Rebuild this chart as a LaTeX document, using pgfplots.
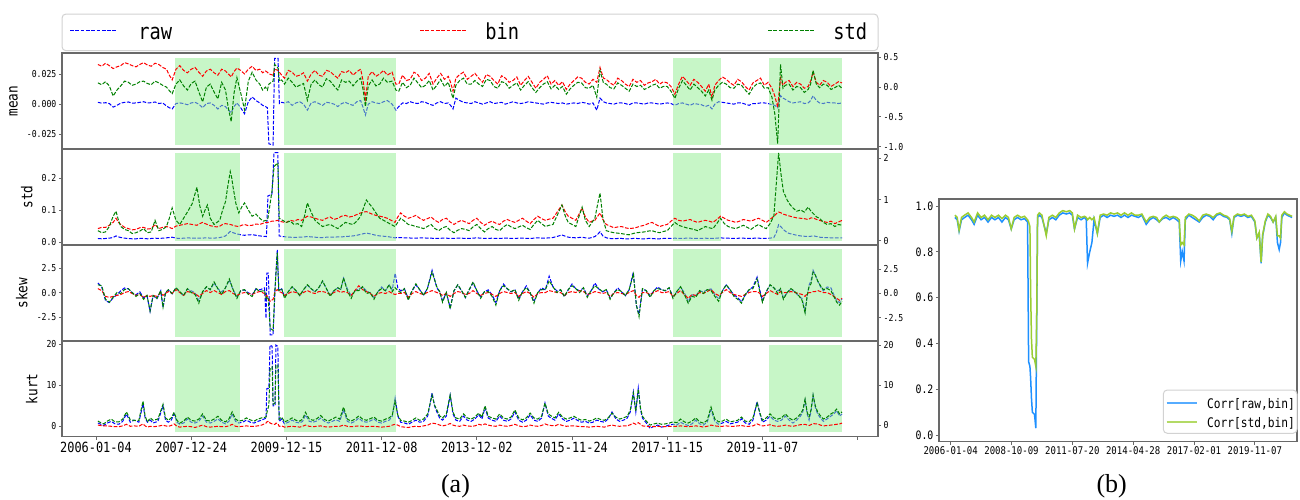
\documentclass[border=0pt]{standalone}
\usepackage{fontspec}
\setmainfont{Liberation Serif}
\newfontfamily\mono{DejaVu Sans Mono}[FakeStretch=0.85]
\usepackage{pgfplots}
\usepackage{pgfplotstable}
\pgfplotsset{compat=1.18}

\definecolor{spine}{RGB}{105,105,105}
\definecolor{lgreen}{RGB}{144,238,144}
\definecolor{pblue}{RGB}{0,0,255}
\definecolor{pred}{RGB}{255,0,0}
\definecolor{pgreen}{RGB}{0,128,0}
\definecolor{cblue}{RGB}{30,144,255}
\definecolor{cgreen}{RGB}{154,205,50}
\definecolor{lbox}{RGB}{210,210,210}

\newcommand\fs[1]{\mono\fontsize{#1}{#1}\selectfont}

% x = trading days since 2006-01-04
\pgfplotstableread{
d raw bin std
10 0.0015 0.38 0.07
30 0.0008 0.35 0.04
50 0.0012 0.40 0.09
70 0.0005 0.36 0.02
90 -0.0025 0.31 -0.15
110 -0.0010 0.34 -0.05
130 0.0008 0.36 0.02
150 0.0015 0.41 0.10
170 0.0018 0.39 0.08
190 0.0008 0.36 0.03
210 0.0010 0.34 0.05
230 0.0015 0.38 0.09
250 0.0020 0.41 0.10
270 0.0010 0.37 0.06
290 0.0012 0.35 0.04
310 0.0018 0.40 0.10
330 0.0005 0.38 0.07
350 0.0010 0.33 0.03
370 -0.0015 0.30 0.00
385 -0.0030 0.20 -0.06
400 -0.0040 0.12 -0.11
420 0.0005 0.30 0.05
440 0.0010 0.36 0.12
460 0.0005 0.28 0.02
480 -0.0005 0.24 -0.05
500 0.0010 0.30 0.06
520 0.0015 0.33 0.10
540 0.0000 0.25 -0.08
560 -0.0030 0.18 -0.25
580 0.0005 0.27 0.00
600 0.0010 0.30 0.05
620 -0.0010 0.24 -0.08
640 -0.0040 0.20 -0.20
660 -0.0010 0.30 0.08
680 -0.0020 0.27 -0.05
695 -0.0050 0.22 -0.35
710 -0.0070 0.17 -0.58
725 -0.0020 0.26 -0.10
740 0.0010 0.32 0.16
760 -0.0030 0.28 -0.10
780 -0.0080 0.22 -0.38
800 0.0020 0.30 0.10
820 0.0060 0.35 0.25
840 0.0030 0.28 0.12
860 0.0010 0.30 0.05
875 -0.0010 0.24 -0.05
890 -0.0020 0.27 0.00
900 -0.0030 0.25 -0.05
908 -0.0330 0.22 0.05
930 -0.0340 0.20 0.10
938 0.0380 0.30 0.38
956 0.0380 0.28 0.32
963 0.0005 0.25 0.10
975 0.0015 0.20 0.12
990 0.0010 0.15 0.05
1010 0.0020 0.28 0.15
1030 -0.0010 0.25 0.08
1050 0.0010 0.18 0.00
1070 0.0020 0.20 0.03
1090 0.0000 0.24 0.06
1110 -0.0050 0.10 -0.22
1130 0.0010 0.22 0.05
1150 0.0020 0.28 0.12
1170 0.0005 0.20 0.04
1190 -0.0010 0.18 0.00
1210 0.0015 0.28 0.14
1230 0.0010 0.26 0.10
1250 0.0000 0.20 0.02
1270 -0.0020 0.15 -0.05
1290 0.0005 0.26 0.12
1310 0.0015 0.24 0.08
1330 0.0000 0.28 0.10
1350 -0.0010 0.20 0.02
1370 0.0020 0.26 0.10
1390 0.0030 0.30 0.15
1403 -0.0030 0.10 -0.05
1415 -0.0090 -0.20 -0.33
1430 0.0000 0.18 0.02
1450 0.0020 0.26 0.12
1470 0.0010 0.18 0.02
1490 0.0005 0.22 0.05
1510 0.0020 0.28 0.15
1530 0.0030 0.20 0.08
1555 0.0000 0.25 0.10
1575 -0.0050 0.05 -0.05
1590 -0.0020 0.05 -0.07
1610 0.0010 0.20 0.08
1630 0.0005 0.11 -0.01
1650 0.0020 0.13 0.03
1670 0.0010 0.25 0.15
1690 0.0005 0.21 0.07
1710 0.0020 0.11 -0.01
1730 0.0015 0.15 0.03
1750 0.0000 0.23 0.11
1770 -0.0010 0.05 -0.05
1790 0.0010 0.15 0.03
1810 0.0020 0.23 0.13
1830 0.0005 0.13 0.01
1850 0.0010 0.18 0.08
1862 -0.0010 0.08 -0.05
1875 -0.0040 -0.07 -0.19
1890 0.0050 0.15 0.03
1910 0.0030 0.21 0.11
1930 0.0015 0.25 0.15
1950 0.0010 0.13 0.05
1970 0.0005 0.18 0.05
1990 0.0020 0.23 0.11
2010 0.0010 0.15 0.05
2030 0.0000 0.08 0.01
2050 0.0010 0.21 0.13
2070 0.0020 0.18 0.11
2090 0.0005 0.11 0.01
2110 0.0010 0.05 -0.02
2130 0.0015 0.19 0.09
2150 0.0000 0.15 0.07
2170 0.0010 0.08 -0.02
2190 0.0020 0.11 0.03
2210 0.0010 0.17 0.07
2230 0.0005 0.03 -0.05
2250 0.0010 0.11 0.03
2270 0.0020 0.18 0.09
2290 0.0015 0.08 -0.01
2310 0.0010 -0.02 -0.09
2330 0.0005 0.08 -0.01
2350 0.0000 0.13 0.05
2370 0.0010 0.19 0.09
2390 0.0015 0.05 -0.03
2410 0.0010 0.11 0.03
2430 0.0005 0.03 -0.04
2450 0.0010 0.09 0.01
2470 0.0000 -0.04 -0.12
2490 0.0005 0.05 -0.03
2510 0.0010 0.11 0.03
2530 0.0005 0.17 0.08
2550 0.0015 0.15 0.07
2570 0.0010 0.08 -0.01
2590 0.0000 0.05 -0.02
2610 0.0010 0.13 0.03
2630 -0.0050 0.08 -0.17
2647 0.0050 0.33 0.28
2665 0.0020 0.15 0.07
2680 0.0010 0.13 0.05
2700 0.0005 0.07 -0.01
2720 0.0000 0.03 -0.03
2740 0.0010 0.15 0.07
2760 0.0010 0.11 0.03
2780 0.0005 0.05 -0.02
2800 -0.0005 0.01 -0.07
2820 0.0010 0.13 0.05
2840 0.0010 0.08 0.01
2860 0.0005 0.11 0.03
2880 0.0000 0.03 -0.04
2900 0.0010 0.07 -0.01
2920 0.0010 0.09 0.03
2940 0.0005 0.13 0.05
2960 0.0000 0.05 -0.02
2980 0.0005 0.09 0.01
3000 0.0010 0.07 0.01
3020 0.0005 0.01 -0.07
3040 -0.0010 -0.12 -0.19
3060 0.0005 0.05 -0.02
3080 0.0010 0.18 0.11
3100 0.0000 0.11 0.03
3120 -0.0010 0.03 -0.05
3140 0.0005 0.13 0.05
3160 0.0000 0.08 -0.01
3180 -0.0005 0.01 -0.07
3200 -0.0020 -0.07 -0.15
3218 -0.0010 0.05 -0.05
3235 -0.0040 -0.17 -0.22
3250 0.0000 0.03 -0.05
3270 0.0020 0.11 0.03
3290 0.0015 0.17 0.08
3310 0.0010 0.13 0.05
3330 0.0005 0.07 -0.01
3350 0.0000 0.03 -0.02
3370 0.0010 0.13 0.05
3390 0.0010 0.09 0.03
3410 0.0000 0.01 -0.05
3430 -0.0010 -0.05 -0.12
3450 0.0005 0.07 -0.01
3470 0.0005 0.11 0.05
3490 0.0010 0.15 0.07
3510 0.0010 0.03 -0.02
3530 0.0005 0.08 -0.01
3550 -0.0005 -0.02 -0.17
3565 -0.0010 -0.15 -0.45
3580 -0.0030 -0.34 -0.95
3595 0.0070 0.15 0.38
3608 0.0050 0.03 -0.02
3620 0.0040 0.08 0.03
3640 0.0020 0.11 0.05
3660 0.0010 0.01 -0.05
3680 0.0015 0.08 0.01
3700 0.0020 0.05 -0.01
3720 0.0005 -0.02 -0.09
3740 0.0010 0.01 -0.04
3753 0.0030 0.10 0.05
3766 0.0070 0.25 0.28
3783 0.0030 0.08 0.05
3800 0.0010 0.03 -0.01
3820 0.0005 0.11 0.05
3840 0.0015 0.08 0.03
3860 0.0010 0.01 -0.04
3880 0.0010 0.05 -0.01
3900 0.0005 0.09 0.03
3918 0.0010 0.07 -0.02
}\meantab

\pgfplotstableread{
d raw bin std
10 0.012 0.30 0.25
30 0.011 0.33 0.20
50 0.012 0.33 0.22
70 0.013 0.38 0.35
90 0.015 0.45 0.60
105 0.020 0.55 0.72
118 0.017 0.45 0.50
130 0.015 0.40 0.35
150 0.013 0.33 0.28
170 0.012 0.30 0.25
190 0.011 0.27 0.18
210 0.011 0.28 0.20
230 0.012 0.32 0.24
250 0.012 0.33 0.30
270 0.011 0.29 0.20
290 0.012 0.30 0.22
310 0.013 0.40 0.50
330 0.012 0.30 0.25
350 0.013 0.33 0.28
370 0.014 0.35 0.35
385 0.015 0.33 0.55
400 0.016 0.30 0.80
420 0.013 0.36 0.50
440 0.012 0.38 0.40
460 0.013 0.40 0.55
480 0.014 0.42 0.70
505 0.013 0.40 0.90
530 0.013 0.38 1.30
545 0.013 0.42 0.85
560 0.013 0.45 0.60
573 0.014 0.42 0.75
585 0.014 0.40 0.87
600 0.013 0.37 0.55
620 0.013 0.35 0.40
635 0.014 0.34 0.45
650 0.015 0.36 0.50
665 0.017 0.40 0.75
680 0.020 0.42 0.95
693 0.027 0.41 1.35
705 0.034 0.40 1.68
712 0.032 0.39 1.55
720 0.030 0.38 1.30
735 0.027 0.36 0.90
750 0.025 0.35 0.68
765 0.023 0.38 0.82
780 0.022 0.40 0.92
800 0.023 0.37 0.75
820 0.024 0.38 0.60
840 0.022 0.41 0.65
860 0.020 0.40 0.55
878 0.019 0.43 0.48
895 0.018 0.45 0.50
903 0.145 0.45 0.55
924 0.150 0.48 1.20
935 0.280 0.48 1.80
955 0.280 0.50 1.89
962 0.020 0.48 0.55
980 0.018 0.46 0.50
1000 0.017 0.45 0.45
1020 0.016 0.50 0.48
1040 0.015 0.48 0.40
1060 0.016 0.52 0.42
1080 0.016 0.50 0.35
1095 0.017 0.55 0.60
1110 0.018 0.60 0.92
1130 0.017 0.58 0.70
1150 0.016 0.55 0.50
1170 0.015 0.52 0.42
1190 0.015 0.50 0.35
1210 0.016 0.55 0.38
1230 0.016 0.58 0.40
1250 0.016 0.52 0.35
1270 0.017 0.55 0.30
1290 0.017 0.60 0.38
1310 0.018 0.62 0.45
1330 0.019 0.58 0.42
1350 0.020 0.60 0.40
1370 0.022 0.64 0.48
1390 0.025 0.68 0.60
1405 0.027 0.70 0.80
1420 0.029 0.71 0.99
1435 0.027 0.68 0.90
1450 0.025 0.65 0.82
1470 0.022 0.62 0.68
1490 0.020 0.60 0.55
1510 0.019 0.58 0.50
1530 0.018 0.55 0.45
1550 0.016 0.50 0.40
1570 0.014 0.45 0.35
1585 0.015 0.58 0.45
1600 0.015 0.68 0.55
1620 0.014 0.60 0.48
1640 0.014 0.55 0.40
1660 0.013 0.58 0.38
1680 0.013 0.62 0.35
1700 0.014 0.55 0.33
1720 0.014 0.50 0.30
1740 0.013 0.54 0.35
1760 0.013 0.58 0.40
1780 0.012 0.50 0.30
1800 0.012 0.45 0.25
1820 0.013 0.52 0.32
1840 0.013 0.55 0.35
1860 0.012 0.46 0.26
1880 0.012 0.40 0.20
1900 0.013 0.46 0.26
1920 0.013 0.50 0.30
1940 0.012 0.46 0.28
1960 0.012 0.42 0.25
1980 0.013 0.50 0.34
2000 0.014 0.55 0.40
2020 0.013 0.45 0.30
2040 0.012 0.38 0.22
2060 0.012 0.44 0.30
2080 0.013 0.48 0.35
2100 0.012 0.43 0.28
2120 0.012 0.40 0.25
2140 0.013 0.48 0.34
2160 0.013 0.52 0.40
2180 0.012 0.48 0.34
2200 0.012 0.45 0.30
2220 0.013 0.50 0.34
2240 0.013 0.55 0.38
2260 0.012 0.48 0.32
2280 0.012 0.42 0.28
2300 0.013 0.52 0.40
2320 0.014 0.60 0.50
2340 0.013 0.54 0.42
2360 0.013 0.50 0.35
2380 0.014 0.53 0.38
2400 0.015 0.55 0.40
2425 0.019 0.72 0.65
2447 0.023 0.87 0.87
2465 0.019 0.70 0.60
2480 0.016 0.60 0.45
2500 0.015 0.55 0.40
2520 0.014 0.50 0.35
2537 0.015 0.65 0.60
2553 0.016 0.80 0.82
2570 0.014 0.58 0.50
2590 0.013 0.45 0.35
2605 0.015 0.48 0.45
2620 0.018 0.50 0.55
2635 0.025 0.60 0.90
2647 0.033 0.68 1.16
2662 0.020 0.52 0.55
2680 0.014 0.40 0.25
2700 0.012 0.36 0.22
2720 0.011 0.32 0.20
2740 0.012 0.34 0.19
2760 0.012 0.35 0.18
2780 0.011 0.32 0.16
2800 0.011 0.30 0.15
2820 0.012 0.31 0.18
2840 0.012 0.33 0.20
2860 0.011 0.36 0.21
2880 0.011 0.38 0.22
2900 0.012 0.42 0.24
2920 0.012 0.45 0.25
2940 0.011 0.40 0.22
2960 0.011 0.35 0.20
2980 0.012 0.38 0.23
3000 0.012 0.40 0.25
3020 0.012 0.48 0.35
3040 0.013 0.55 0.45
3060 0.012 0.50 0.38
3080 0.012 0.48 0.35
3100 0.013 0.50 0.32
3120 0.013 0.52 0.30
3140 0.012 0.48 0.28
3160 0.012 0.45 0.25
3180 0.012 0.48 0.30
3200 0.013 0.50 0.35
3220 0.012 0.48 0.32
3240 0.012 0.45 0.30
3260 0.013 0.52 0.42
3280 0.014 0.60 0.55
3300 0.013 0.55 0.42
3320 0.013 0.50 0.35
3340 0.012 0.48 0.32
3360 0.012 0.45 0.30
3380 0.013 0.48 0.34
3400 0.013 0.52 0.38
3420 0.012 0.50 0.33
3440 0.012 0.48 0.28
3460 0.013 0.52 0.35
3480 0.013 0.55 0.40
3500 0.012 0.50 0.34
3520 0.012 0.45 0.30
3540 0.013 0.52 0.42
3560 0.015 0.60 0.60
3573 0.030 0.66 1.40
3585 0.055 0.70 2.13
3598 0.048 0.68 1.60
3610 0.040 0.65 1.20
3630 0.030 0.62 0.99
3645 0.027 0.60 0.88
3660 0.025 0.58 0.80
3680 0.022 0.56 0.72
3700 0.020 0.55 0.75
3720 0.019 0.54 0.70
3740 0.018 0.52 0.82
3755 0.019 0.56 0.72
3770 0.020 0.55 0.65
3785 0.018 0.52 0.58
3800 0.016 0.50 0.55
3820 0.015 0.47 0.45
3840 0.015 0.45 0.40
3860 0.014 0.48 0.42
3880 0.014 0.42 0.35
3900 0.014 0.46 0.40
3918 0.014 0.50 0.38
}\stdtab

\pgfplotstableread{
d raw bin std
10 1.0 0.5 0.9
30 0.6 0.3 0.8
50 -0.8 -0.3 -0.6
70 -1.0 -0.4 -0.9
90 -0.5 -0.3 -0.4
110 -0.2 -0.2 0.1
130 0.2 -0.1 0.0
150 0.5 0.1 0.4
170 0.4 0.2 0.5
190 0.0 0.0 0.1
210 -0.2 -0.2 -0.3
230 0.1 -0.1 0.0
250 -0.5 -0.4 -0.6
268 -0.3 -0.2 -0.2
284 -1.9 -0.3 -1.8
300 -0.3 -0.2 -0.2
320 -0.6 -0.3 -0.5
340 0.2 0.1 0.3
352 -1.5 -0.2 -1.4
365 0.0 0.0 0.1
380 0.3 0.2 0.4
400 -0.1 0.0 0.0
420 0.5 0.4 0.6
440 0.1 0.1 0.2
460 -0.3 -0.2 -0.2
480 0.4 0.2 0.5
500 0.2 0.1 0.1
520 0.0 0.0 -0.1
540 -0.8 -0.3 -1.0
560 0.1 0.0 0.2
580 0.6 0.3 0.7
600 0.3 0.1 0.4
620 1.0 0.3 1.2
640 0.4 0.1 0.5
660 0.1 -0.1 -0.1
680 0.5 0.2 0.6
700 1.3 0.3 1.5
720 0.3 0.0 0.4
740 -0.4 -0.2 -0.5
760 0.2 0.0 0.3
780 0.3 0.1 0.4
800 0.0 0.0 -0.1
820 -0.2 -0.1 -0.3
840 0.4 0.1 0.5
860 0.3 0.2 0.2
885 0.5 0.0 0.3
893 -2.6 -0.3 -0.5
897 2.0 -0.2 -0.3
905 2.0 -0.5 -0.6
915 -4.3 -0.8 -3.6
930 -4.3 -0.6 -3.8
940 0.3 0.2 0.5
952 4.4 0.4 4.2
960 0.2 0.2 0.3
975 0.4 0.1 0.5
990 -0.4 -0.2 -0.5
1010 0.1 0.0 0.2
1030 0.6 0.2 0.7
1050 0.2 0.1 0.3
1070 -0.3 -0.1 -0.2
1090 0.3 0.1 0.4
1110 0.8 0.3 0.9
1130 0.4 0.1 0.5
1150 0.1 0.0 0.2
1170 0.5 0.2 0.6
1190 1.2 0.2 1.3
1210 0.4 0.1 0.5
1230 -0.2 -0.1 -0.3
1250 0.2 0.1 0.3
1270 0.5 0.3 0.6
1285 0.3 0.1 0.4
1300 1.5 0.2 1.6
1320 0.4 0.1 0.3
1340 -0.3 -0.2 -0.5
1360 0.2 0.3 0.3
1380 0.4 0.8 0.3
1400 0.6 0.4 0.7
1420 0.2 0.2 0.0
1440 0.0 0.0 0.1
1460 -0.5 -0.3 -0.6
1480 0.1 0.0 0.2
1500 0.6 0.1 0.5
1520 0.2 0.0 0.3
1540 0.8 0.2 0.9
1556 0.3 0.0 0.2
1571 2.0 -0.1 0.6
1585 0.5 0.0 0.3
1600 0.2 0.0 0.1
1620 0.4 0.1 0.5
1640 -0.6 -0.4 -0.7
1660 0.2 0.0 0.3
1680 0.8 0.2 1.0
1700 0.3 0.0 0.4
1720 -0.2 -0.1 -0.2
1740 0.4 0.1 0.5
1765 2.3 0.3 2.2
1790 0.5 0.1 0.7
1805 0.1 0.0 0.2
1820 -0.8 -0.2 -0.9
1840 0.0 0.0 0.1
1860 -1.5 -0.3 -1.6
1880 0.2 0.0 0.3
1900 0.8 0.2 0.9
1920 0.2 0.1 0.3
1940 -0.5 -0.1 -0.4
1960 0.3 0.0 0.4
1980 1.0 0.3 1.2
2000 0.2 0.0 0.3
2020 -0.4 -0.2 -0.5
2040 0.1 0.0 0.2
2060 0.3 0.1 0.2
2080 -0.2 -0.1 -0.3
2100 -1.0 -0.3 -1.2
2120 0.2 0.0 0.3
2140 0.9 0.2 0.8
2160 0.4 0.1 0.5
2180 0.1 0.0 0.2
2200 0.3 0.1 0.4
2220 -0.6 -0.3 -0.7
2240 0.1 0.0 0.2
2260 0.7 0.2 0.6
2280 0.0 0.0 0.1
2300 -0.9 -0.4 -1.0
2320 0.0 0.0 0.1
2340 0.5 0.1 0.4
2360 0.3 0.1 0.4
2380 1.7 0.3 1.3
2400 0.6 0.2 0.7
2420 0.2 0.1 0.1
2440 0.3 0.1 0.4
2460 -0.4 -0.2 -0.3
2480 0.3 0.1 0.4
2500 0.9 0.2 0.8
2520 0.4 0.1 0.5
2540 0.2 0.3 0.1
2560 0.5 0.2 0.6
2580 -0.3 -0.1 -0.4
2600 0.2 0.0 0.3
2620 1.0 0.2 0.8
2640 0.4 0.1 0.5
2660 0.1 0.0 0.2
2680 0.3 0.1 0.4
2700 -0.5 -0.3 -0.6
2720 0.0 0.0 0.1
2740 0.5 0.1 0.4
2760 0.1 0.0 0.2
2780 -0.3 -0.1 -0.2
2800 0.3 0.1 0.4
2822 2.1 0.3 2.0
2838 -1.3 -0.2 -1.2
2852 -2.2 -0.4 -2.4
2870 0.4 0.1 0.5
2890 0.2 0.1 0.3
2910 -0.3 -0.1 -0.4
2930 0.2 0.1 0.3
2950 0.6 0.3 0.5
2970 0.3 0.1 0.4
2990 0.2 0.1 0.3
3010 0.5 0.2 0.6
3030 -0.4 -0.3 -0.5
3050 0.1 0.0 0.2
3070 0.6 0.3 0.7
3090 0.0 -0.1 -0.1
3110 -0.9 -0.5 -1.0
3130 -0.2 -0.1 -0.3
3150 -0.3 -0.2 -0.4
3170 0.2 0.1 0.3
3190 0.1 0.0 0.0
3210 0.3 0.2 0.4
3230 0.4 0.4 0.3
3250 -0.2 0.0 -0.3
3270 -0.6 -0.2 -0.8
3290 0.2 0.1 0.3
3310 0.8 0.4 0.9
3330 0.3 0.1 0.4
3350 -0.2 -0.1 -0.3
3370 -0.5 -0.2 -0.6
3390 -0.9 -0.3 -1.0
3410 -0.2 -0.1 -0.1
3430 0.3 0.1 0.4
3450 0.6 0.2 0.5
3472 1.6 0.2 1.5
3487 0.2 0.0 0.1
3500 -0.8 -0.3 -0.9
3520 0.1 0.0 0.2
3540 0.8 0.3 0.9
3560 0.5 0.1 0.6
3580 0.2 -0.1 0.0
3595 0.4 0.2 0.5
3610 -0.5 0.1 -0.6
3630 0.0 0.1 0.1
3650 0.4 0.2 0.5
3670 0.1 0.1 0.2
3690 -0.3 0.0 -0.2
3708 -0.6 -0.1 -0.7
3724 -1.9 -0.3 -2.0
3735 -0.3 0.0 -0.2
3745 0.8 0.1 0.7
3755 1.2 0.1 1.0
3766 2.3 0.2 2.2
3778 1.8 0.2 1.9
3790 1.2 0.3 1.3
3805 0.6 0.2 0.8
3820 0.2 0.1 0.4
3840 0.6 0.1 0.5
3860 0.5 -0.1 0.3
3875 -0.2 -0.3 -0.3
3890 -0.8 -0.5 -0.9
3905 -1.0 -0.7 -1.2
3918 -0.6 -0.5 -0.8
}\skewtab

\pgfplotstableread{
d raw bin std
10 0.8 0.0 1.0
25 0.5 -0.1 0.6
40 0.2 -0.2 0.3
60 0.8 -0.2 1.0
80 1.2 -0.3 1.5
100 0.6 -0.4 0.8
120 0.5 -0.4 0.8
140 1.2 -0.2 1.5
160 3.0 0.2 3.3
180 1.0 -0.3 1.3
200 1.5 -0.2 1.2
225 1.0 -0.3 1.2
247 5.5 0.3 6.0
258 2.0 -0.2 2.2
270 1.0 -0.5 0.8
285 1.5 -0.3 1.8
300 0.8 -0.4 1.2
325 1.2 -0.3 1.5
352 5.0 0.0 5.2
365 1.5 -0.2 1.8
380 1.0 -0.3 1.2
395 1.5 -0.1 1.8
410 3.0 0.3 3.2
425 1.0 -0.3 1.2
440 0.5 -0.5 0.5
460 0.8 -0.4 1.0
480 1.8 -0.3 2.0
500 1.0 -0.4 1.2
520 0.8 -0.6 1.0
540 1.2 -0.3 1.5
560 2.5 0.0 2.8
580 1.0 -0.4 1.2
600 0.8 -0.5 1.0
620 1.2 -0.4 1.5
640 1.8 -0.3 2.2
660 1.0 -0.4 1.2
680 0.6 -0.4 0.8
698 1.2 -0.2 1.5
715 3.0 0.2 3.3
733 1.2 -0.3 1.5
750 0.8 -0.4 1.0
770 1.0 -0.3 1.2
790 1.5 -0.2 1.8
810 1.0 -0.3 1.3
830 0.8 -0.3 1.0
850 1.2 -0.2 1.5
870 1.5 0.0 1.8
893 2.0 0.5 2.0
897 9.2 0.8 3.0
908 9.3 1.0 5.0
914 19.8 0.5 14.0
925 19.5 0.3 14.5
930 5.0 0.2 5.2
940 5.0 0.2 5.5
945 19.8 0.5 15.0
955 19.5 0.4 15.0
962 1.2 -0.3 1.5
975 1.8 -0.2 2.0
990 0.6 -0.5 0.8
1010 1.0 -0.4 1.2
1030 1.5 -0.3 1.8
1050 1.0 -0.4 1.2
1070 0.8 -0.5 1.0
1085 1.2 -0.3 1.5
1100 2.8 0.0 3.2
1120 1.2 -0.3 1.5
1140 1.0 -0.4 1.2
1160 1.3 -0.3 1.6
1180 2.0 -0.2 2.4
1200 1.2 -0.4 1.4
1220 0.8 -0.5 1.0
1240 1.2 -0.4 1.5
1260 1.6 -0.3 2.0
1280 1.2 -0.3 1.5
1300 4.0 0.0 4.5
1320 1.2 -0.3 1.5
1340 0.8 -0.4 1.0
1360 1.2 -0.3 1.5
1380 2.0 -0.2 2.3
1400 1.2 -0.3 1.5
1420 1.0 -0.4 1.2
1440 1.3 -0.3 1.6
1460 1.8 -0.3 2.0
1480 1.0 -0.4 1.2
1500 0.8 -0.5 1.0
1520 1.2 -0.4 1.5
1540 1.5 -0.3 1.8
1556 2.5 0.0 2.5
1571 6.9 0.2 6.0
1585 2.5 0.0 2.5
1600 1.0 -0.4 1.2
1620 0.8 -0.5 1.0
1640 0.5 -0.6 0.7
1660 1.0 -0.4 1.2
1680 1.5 -0.3 1.8
1700 1.0 -0.4 1.2
1720 1.2 -0.2 1.5
1742 2.5 0.0 2.8
1765 8.1 0.5 7.5
1778 5.0 0.4 5.0
1790 3.5 0.3 3.8
1805 2.0 0.0 2.3
1820 1.5 -0.2 1.8
1840 2.5 0.0 2.8
1860 7.6 0.4 7.5
1875 3.0 0.0 3.2
1890 1.5 -0.2 1.8
1910 1.2 -0.3 1.5
1930 2.5 0.0 2.8
1950 1.5 -0.2 1.8
1970 1.2 -0.3 1.5
1990 1.8 -0.2 2.0
2010 2.8 0.2 3.0
2027 1.8 0.0 2.0
2043 4.5 0.3 4.8
2060 2.0 0.0 2.2
2080 1.5 -0.2 1.8
2100 1.2 -0.3 1.5
2120 2.5 0.0 2.8
2140 1.5 -0.2 1.8
2160 1.2 -0.3 1.5
2180 1.8 -0.1 2.0
2200 3.5 0.2 3.8
2220 1.5 -0.2 1.8
2240 1.0 -0.4 1.3
2260 1.5 -0.3 1.8
2280 2.8 0.0 3.0
2300 1.5 -0.2 1.8
2320 1.2 -0.3 1.5
2340 2.0 -0.1 2.2
2358 5.7 0.3 5.5
2375 2.5 0.0 2.8
2390 2.0 -0.1 2.3
2410 1.5 -0.2 1.8
2430 3.0 0.2 3.2
2450 1.8 -0.1 2.0
2470 1.2 -0.3 1.5
2490 1.5 -0.2 1.8
2510 2.0 -0.2 2.2
2530 1.4 -0.3 1.6
2550 1.0 -0.4 1.2
2570 1.2 -0.4 1.4
2590 0.8 -0.5 1.0
2610 1.0 -0.4 1.3
2630 1.5 -0.3 1.8
2650 1.2 -0.4 1.4
2670 1.0 -0.5 1.2
2690 1.8 -0.2 1.8
2710 3.5 0.0 3.0
2730 1.8 -0.2 2.0
2750 1.2 -0.3 1.5
2770 1.5 -0.2 1.8
2790 2.0 -0.2 2.2
2806 3.5 0.1 3.8
2822 8.4 0.5 8.0
2835 3.5 0.2 3.5
2848 9.3 0.6 9.0
2860 4.0 0.2 4.2
2870 2.0 -0.2 2.2
2890 0.8 -0.3 1.0
2910 -0.5 -0.4 0.0
2930 0.0 -0.4 0.3
2950 0.3 -0.3 0.5
2970 -0.2 -0.4 0.2
2990 0.0 -0.4 0.3
3010 0.3 -0.3 0.5
3030 0.5 -0.3 0.8
3050 0.3 -0.3 0.6
3070 1.0 -0.2 1.5
3090 0.5 -0.3 0.8
3110 0.2 -0.4 0.5
3130 0.6 -0.3 1.0
3150 1.5 -0.2 1.8
3170 0.6 -0.3 0.8
3190 0.3 -0.5 0.5
3210 1.0 -0.3 1.2
3230 4.0 0.0 4.5
3250 1.2 -0.2 1.5
3270 0.5 -0.3 0.8
3290 0.8 -0.3 1.0
3310 1.2 -0.2 1.5
3330 0.6 -0.3 0.8
3350 0.8 -0.3 1.0
3370 1.0 -0.2 1.2
3390 1.8 -0.1 2.0
3410 0.8 -0.3 1.0
3430 0.5 -0.3 0.8
3450 1.5 -0.2 1.8
3472 6.0 0.3 5.5
3487 3.0 0.0 3.0
3500 1.0 -0.2 1.2
3520 1.5 -0.1 1.8
3540 2.5 0.1 2.8
3560 1.5 -0.2 1.8
3580 1.2 -0.3 1.5
3600 1.5 -0.2 1.8
3620 2.5 0.0 2.8
3640 1.5 -0.2 1.8
3660 0.8 -0.3 1.2
3680 1.5 -0.1 1.8
3700 2.5 0.1 2.8
3712 3.5 0.1 3.8
3724 6.4 0.2 6.5
3735 3.0 0.0 3.2
3745 1.5 -0.1 2.0
3755 3.5 0.1 3.8
3766 7.6 0.4 7.5
3778 4.5 0.3 4.8
3790 3.0 0.3 3.3
3805 2.0 0.0 2.3
3820 1.2 -0.2 1.5
3840 1.8 -0.1 2.0
3860 2.5 0.0 2.8
3875 3.0 0.1 3.2
3890 3.8 0.2 4.0
3905 2.5 0.3 2.8
3918 3.0 0.5 3.3
}\kurttab

\pgfplotstableread{
d rb sb
49 0.95 0.96
75 0.94 0.95
97 0.89 0.895
125 0.94 0.95
160 0.95 0.96
200 0.96 0.97
240 0.94 0.95
270 0.92 0.93
310 0.96 0.97
350 0.94 0.95
390 0.95 0.96
430 0.93 0.94
470 0.95 0.96
510 0.94 0.95
550 0.95 0.96
590 0.93 0.945
630 0.95 0.96
665 0.94 0.95
697 0.90 0.90
730 0.94 0.95
770 0.95 0.96
810 0.94 0.95
850 0.945 0.955
885 0.93 0.94
897 0.32 0.93
912 0.30 0.91
920 0.25 0.63
930 0.16 0.42
940 0.10 0.34
965 0.09 0.33
980 0.03 0.30
990 0.50 0.51
1000 0.95 0.96
1020 0.96 0.97
1050 0.95 0.96
1100 0.88 0.87
1130 0.94 0.95
1170 0.95 0.96
1210 0.94 0.95
1250 0.96 0.97
1290 0.97 0.98
1330 0.965 0.975
1370 0.97 0.98
1400 0.96 0.97
1425 0.90 0.90
1460 0.95 0.96
1500 0.94 0.95
1540 0.95 0.955
1560 0.94 0.95
1575 0.75 0.94
1600 0.80 0.95
1625 0.84 0.94
1650 0.94 0.95
1688 0.88 0.88
1720 0.95 0.96
1760 0.96 0.965
1800 0.95 0.96
1840 0.96 0.97
1880 0.955 0.965
1920 0.96 0.97
1960 0.95 0.96
2000 0.96 0.97
2040 0.95 0.96
2080 0.96 0.97
2120 0.955 0.96
2160 0.95 0.96
2200 0.96 0.965
2250 0.92 0.93
2290 0.94 0.95
2330 0.95 0.955
2370 0.94 0.95
2400 0.93 0.93
2440 0.945 0.95
2480 0.95 0.96
2520 0.94 0.95
2560 0.95 0.955
2600 0.94 0.95
2630 0.93 0.94
2647 0.76 0.83
2665 0.80 0.84
2685 0.76 0.83
2700 0.94 0.95
2740 0.96 0.965
2780 0.95 0.96
2820 0.94 0.95
2860 0.93 0.935
2900 0.95 0.96
2940 0.96 0.965
2980 0.955 0.96
3020 0.94 0.95
3060 0.96 0.965
3100 0.965 0.97
3140 0.955 0.96
3180 0.95 0.955
3210 0.94 0.945
3235 0.88 0.89
3260 0.95 0.955
3300 0.96 0.965
3340 0.955 0.96
3380 0.96 0.965
3420 0.95 0.955
3460 0.955 0.96
3500 0.93 0.935
3523 0.86 0.86
3550 0.88 0.885
3572 0.75 0.755
3590 0.87 0.875
3620 0.93 0.935
3650 0.96 0.965
3680 0.95 0.955
3710 0.93 0.93
3740 0.95 0.955
3760 0.84 0.87
3780 0.81 0.87
3795 0.84 0.86
3810 0.95 0.96
3840 0.97 0.975
3870 0.96 0.965
3900 0.955 0.96
3928 0.95 0.955
}\corrtab

\pgfplotsset{
  common/.style={
    scale only axis, width=408pt, height=48pt,
    xmin=-178.6, xmax=4107,
    axis line style={spine, line width=0.6pt},
    tick style={spine, line width=0.5pt},
    tick align=outside, major tick length=1.6pt,
    yticklabel style={font=\fs{4.8}, inner xsep=1pt},
  },
  panel/.style={common, xtick=\empty, ytick pos=left,
    ylabel style={font=\fs{7.5}}},
  twin/.style={common, axis y line*=right, axis x line=none},
  ser/.style={line width=0.5pt, dash pattern=on 1.85pt off 0.8pt},
  shade/.style={draw=none, fill=lgreen, fill opacity=0.5, forget plot},
}

\begin{document}
\begin{tikzpicture}
\path[use as bounding box] (0,0) rectangle (650pt,-249.5pt);

% ---- mean
\begin{axis}[panel, at={(31pt,-74.5pt)}, anchor=south west,
  ymin=-0.0373, ymax=0.0425, ylabel={mean},
  ytick={-0.025,0,0.025}, yticklabels={-0.025,0.000,0.025}]
\addplot[pblue, ser] table[x=d, y=raw] {\meantab};
\addplot[shade] coordinates {(415,-0.0342) (415,0.0386) (756,0.0386) (756,-0.0342)} -- cycle;
\addplot[shade] coordinates {(987,-0.0342) (987,0.0386) (1576,0.0386) (1576,-0.0342)} -- cycle;
\addplot[shade] coordinates {(3030,-0.0342) (3030,0.0386) (3283,0.0386) (3283,-0.0342)} -- cycle;
\addplot[shade] coordinates {(3535,-0.0342) (3535,0.0386) (3918,0.0386) (3918,-0.0342)} -- cycle;
\end{axis}
\begin{axis}[twin, at={(31pt,-74.5pt)}, anchor=south west,
  ymin=-1.04, ymax=0.572,
  ytick={-1,-0.5,0,0.5}, yticklabels={-1.0,-0.5,0.0,0.5}]
\addplot[pred, ser] table[x=d, y=bin] {\meantab};
\addplot[pgreen, ser] table[x=d, y=std] {\meantab};
\end{axis}

% ---- std
\begin{axis}[panel, at={(31pt,-122.5pt)}, anchor=south west,
  ymin=-0.0084, ymax=0.2916, ylabel={std},
  ytick={0,0.1,0.2}, yticklabels={0.0,0.1,0.2}]
\addplot[pblue, ser] table[x=d, y=raw] {\stdtab};
\addplot[shade] coordinates {(415,0.005) (415,0.279) (756,0.279) (756,0.005)} -- cycle;
\addplot[shade] coordinates {(987,0.005) (987,0.279) (1576,0.279) (1576,0.005)} -- cycle;
\addplot[shade] coordinates {(3030,0.005) (3030,0.279) (3283,0.279) (3283,0.005)} -- cycle;
\addplot[shade] coordinates {(3535,0.005) (3535,0.279) (3918,0.279) (3918,0.005)} -- cycle;
\end{axis}
\begin{axis}[twin, at={(31pt,-122.5pt)}, anchor=south west,
  ymin=-0.097, ymax=2.225,
  ytick={0,1,2}, yticklabels={0,1,2}]
\addplot[pred, ser] table[x=d, y=bin] {\stdtab};
\addplot[pgreen, ser] table[x=d, y=std] {\stdtab};
\end{axis}

% ---- skew
\begin{axis}[panel, at={(31pt,-170.5pt)}, anchor=south west,
  ymin=-4.92, ymax=4.88, ylabel={skew},
  ytick={-2.5,0,2.5}, yticklabels={-2.5,0.0,2.5}]
\addplot[pblue, ser] table[x=d, y=raw] {\skewtab};
\addplot[shade] coordinates {(415,-4.49) (415,4.46) (756,4.46) (756,-4.49)} -- cycle;
\addplot[shade] coordinates {(987,-4.49) (987,4.46) (1576,4.46) (1576,-4.49)} -- cycle;
\addplot[shade] coordinates {(3030,-4.49) (3030,4.46) (3283,4.46) (3283,-4.49)} -- cycle;
\addplot[shade] coordinates {(3535,-4.49) (3535,4.46) (3918,4.46) (3918,-4.49)} -- cycle;
\end{axis}
\begin{axis}[twin, at={(31pt,-170.5pt)}, anchor=south west,
  ymin=-4.9, ymax=5.0,
  ytick={-2.5,0,2.5}, yticklabels={-2.5,0.0,2.5}]
\addplot[pred, ser] table[x=d, y=bin] {\skewtab};
\addplot[pgreen, ser] table[x=d, y=std] {\skewtab};
\end{axis}

% ---- kurt
\begin{axis}[common, at={(31pt,-218.35pt)}, anchor=south west, height=47.85pt,
  ymin=-2.54, ymax=20.8, ylabel={kurt}, ytick pos=left, xtick pos=bottom,
  ylabel style={font=\fs{7.5}},
  ytick={0,10,20}, yticklabels={0,10,20},
  xtick={0,500,1000,1500,2000,2500,3000,3500,4000},
  xticklabels={2006-01-04,2007-12-24,2009-12-15,2011-12-08,2013-12-02,2015-11-24,2017-11-15,2019-11-07,},
  xticklabel style={font=\fs{7}, yshift=2.5pt}]
\addplot[pblue, ser] table[x=d, y=raw] {\kurttab};
\addplot[shade] coordinates {(415,-1.3) (415,19.8) (756,19.8) (756,-1.3)} -- cycle;
\addplot[shade] coordinates {(987,-1.3) (987,19.8) (1576,19.8) (1576,-1.3)} -- cycle;
\addplot[shade] coordinates {(3030,-1.3) (3030,19.8) (3283,19.8) (3283,-1.3)} -- cycle;
\addplot[shade] coordinates {(3535,-1.3) (3535,19.8) (3918,19.8) (3918,-1.3)} -- cycle;
\end{axis}
\begin{axis}[twin, at={(31pt,-218.35pt)}, anchor=south west, height=47.85pt,
  ymin=-2.9, ymax=21,
  ytick={0,10,20}, yticklabels={0,10,20}]
\addplot[pred, ser] table[x=d, y=bin] {\kurttab};
\addplot[pgreen, ser] table[x=d, y=std] {\kurttab};
\end{axis}

% ---- panel (b)
\begin{axis}[scale only axis, at={(469.5pt,-220.85pt)}, anchor=south west,
  width=179pt, height=121.35pt,
  xmin=-134, xmax=3985, ymin=-0.029, ymax=1.0306,
  axis line style={spine, line width=0.6pt},
  tick style={spine, line width=0.5pt},
  tick align=outside, major tick length=1.6pt,
  xtick pos=bottom, ytick pos=left,
  ytick={0,0.2,0.4,0.6,0.8,1}, yticklabels={0.0,0.2,0.4,0.6,0.8,1.0},
  xtick={0,700,1400,2100,2800,3500},
  xticklabels={2006-01-04,2008-10-09,2011-07-20,2014-04-28,2017-02-01,2019-11-07},
  yticklabel style={font=\fs{5.8}, inner xsep=1pt},
  xticklabel style={font=\fs{5.3}, yshift=2.5pt},
]
\addplot[cblue, line width=0.75pt] table[x=d, y=rb] {\corrtab};
\addplot[cgreen, line width=0.75pt] table[x=d, y=sb] {\corrtab};
\end{axis}

% legend of (a)
\draw[lbox, line width=0.5pt, rounded corners=2pt, fill=white]
  (31pt,-7pt) rectangle (439pt,-25.35pt);
\draw[pblue, line width=0.5pt, dash pattern=on 1.85pt off 0.8pt] (35pt,-15.35pt) -- (58.5pt,-15.35pt);
\node[anchor=base west, inner sep=0pt, font=\fs{11}] at (69pt,-19.65pt) {raw};
\draw[pred, line width=0.5pt, dash pattern=on 1.85pt off 0.8pt] (210pt,-15.35pt) -- (233.5pt,-15.35pt);
\node[anchor=base west, inner sep=0pt, font=\fs{11}] at (242.5pt,-19.65pt) {bin};
\draw[pgreen, line width=0.5pt, dash pattern=on 1.85pt off 0.8pt] (384pt,-15.35pt) -- (407.5pt,-15.35pt);
\node[anchor=base west, inner sep=0pt, font=\fs{11}] at (416.5pt,-19.65pt) {std};

% legend of (b)
\draw[lbox, line width=0.5pt, rounded corners=2pt, fill=white]
  (581.65pt,-195pt) rectangle (648.5pt,-216.65pt);
\draw[cblue!75, line width=1pt] (583.35pt,-201.35pt) -- (598.35pt,-201.35pt);
\node[anchor=base west, inner sep=0pt, font=\fs{6.6}] at (603.35pt,-204pt) {Corr[raw,bin]};
\draw[cgreen!75, line width=1pt] (583.35pt,-210.85pt) -- (598.35pt,-210.85pt);
\node[anchor=base west, inner sep=0pt, font=\fs{6.6}] at (603.35pt,-213.5pt) {Corr[std,bin]};

\node at (227.75pt,-243.35pt) {\fontsize{13}{13}\selectfont (a)};
\node at (555.85pt,-243.35pt) {\fontsize{13}{13}\selectfont (b)};
\end{tikzpicture}
\end{document}
